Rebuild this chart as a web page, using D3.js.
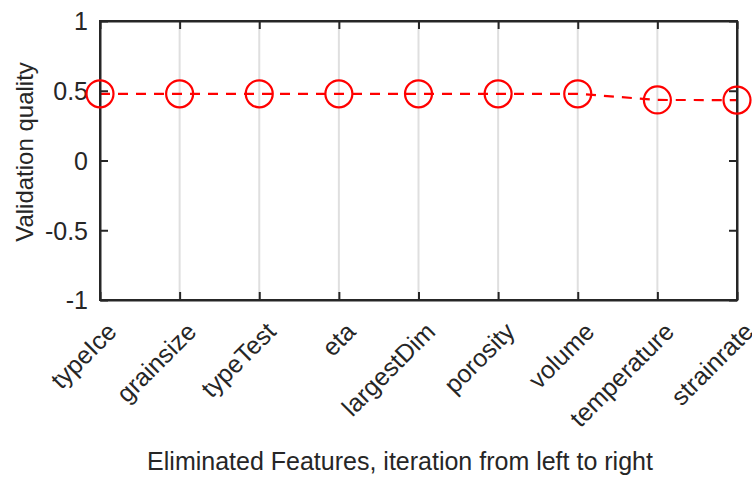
<!DOCTYPE html>
<html><head><meta charset="utf-8">
<script src="https://cdn.jsdelivr.net/npm/d3@7"></script>
<style>body{margin:0;background:#fff}svg{display:block}text{font-family:"Liberation Sans",Arial,sans-serif}</style>
</head><body>
<svg id="c" width="752" height="480"></svg>
<script>
const features = ["typeIce","grainsize","typeTest","eta","largestDim","porosity","volume","temperature","strainrate"];
const quality = [0.478,0.478,0.478,0.478,0.478,0.478,0.478,0.434,0.433];
const yTicks = [-1,-0.5,0,0.5,1];
const yTickLabels = ["-1","-0.5","0","0.5","1"];

const svg = d3.select("#c");
const L=100,R=737,T=21,B=300;
const x = d3.scalePoint().domain(features).range([L,R]);
const y = d3.scaleLinear().domain([-1,1]).range([B,T]);
const axisColor="#262626";
const fs="25px";

// grid
svg.append("g").selectAll("line").data(features).join("line")
  .attr("x1",d=>x(d)).attr("x2",d=>x(d)).attr("y1",T).attr("y2",B)
  .attr("stroke","#dfdfdf").attr("stroke-width",2);

// line
svg.append("path").datum(features.map((f,i)=>[f,quality[i]]))
  .attr("d",d3.line().x(d=>x(d[0])).y(d=>y(d[1])))
  .attr("fill","none").attr("stroke","#ff0000").attr("stroke-width",2.2)
  .attr("stroke-dasharray","10,8");

// axes
const yAxis = d3.axisLeft(y).tickValues(yTicks).tickFormat((d,i)=>yTickLabels[i]).tickSizeInner(-8).tickSizeOuter(0).tickPadding(12);
const gy = svg.append("g").attr("transform",`translate(${L},0)`).call(yAxis);
const gyr = svg.append("g").attr("transform",`translate(${R},0)`).call(d3.axisRight(y).tickValues(yTicks).tickSizeInner(-8).tickSizeOuter(0).tickFormat(""));
const xAxis = d3.axisBottom(x).tickSizeInner(-8).tickSizeOuter(0).tickFormat("");
const gx = svg.append("g").attr("transform",`translate(0,${B})`).call(xAxis);
const gxt = svg.append("g").attr("transform",`translate(0,${T})`).call(d3.axisTop(x).tickSizeInner(-8).tickSizeOuter(0).tickFormat(""));
[gy,gyr,gx,gxt].forEach(g=>{
  g.select(".domain").attr("stroke",axisColor).attr("stroke-width",2);
  g.selectAll(".tick line").attr("stroke",axisColor).attr("stroke-width",2);
});
gy.selectAll(".tick text").attr("fill",axisColor).style("font-size",fs).attr("dy","0.35em");
svg.append("rect").attr("x",L).attr("y",T).attr("width",R-L).attr("height",B-T)
  .attr("fill","none").attr("stroke",axisColor).attr("stroke-width",2);

// x tick labels rotated
svg.append("g").selectAll("text").data(features).join("text")
  .attr("transform",d=>`translate(${x(d)+12},${B+27}) rotate(-45)`)
  .attr("text-anchor","end").attr("fill",axisColor).style("font-size",fs)
  .attr("dy","0.35em").text(d=>d);

// markers
svg.append("g").selectAll("circle").data(features).join("circle")
  .attr("cx",d=>x(d)).attr("cy",(d,i)=>y(quality[i])).attr("r",13.5)
  .attr("fill","none").attr("stroke","#ff0000").attr("stroke-width",2.2);

// labels
svg.append("text").attr("x",400).attr("y",470).attr("text-anchor","middle")
  .attr("fill",axisColor).style("font-size",fs).text("Eliminated Features, iteration from left to right");
svg.append("text").attr("transform","translate(33,152) rotate(-90)").attr("text-anchor","middle")
  .attr("fill",axisColor).style("font-size","24px").text("Validation quality");
</script>
</body></html>
